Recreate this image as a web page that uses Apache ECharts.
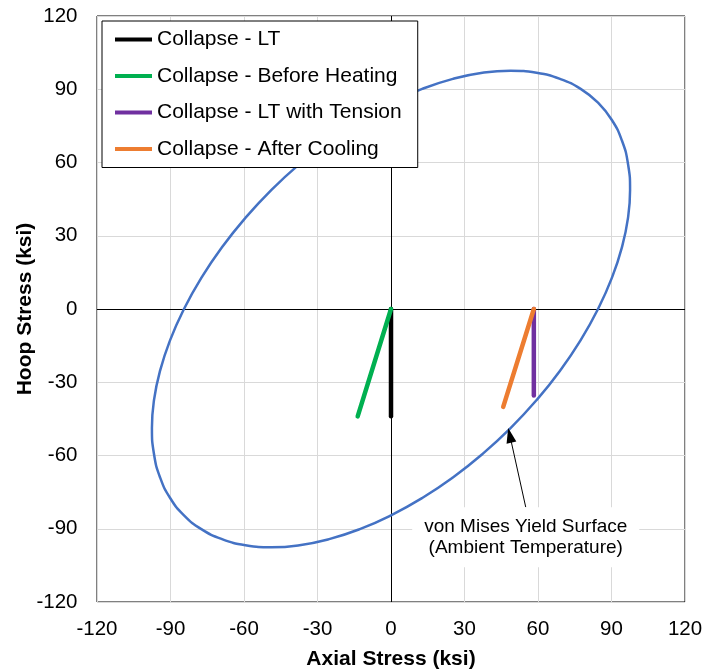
<!DOCTYPE html>
<html>
<head>
<meta charset="utf-8">
<script src="https://cdn.jsdelivr.net/npm/echarts@6/dist/echarts.min.js"></script>
<style>
html,body{margin:0;padding:0;background:#fff;}
#chart{width:704px;height:670px;}
</style>
</head>
<body>
<div id="chart"></div>
<script>
// ---- Data ----
var axisTicks = [-120, -90, -60, -30, 0, 30, 60, 90, 120];

// von Mises yield surface (ambient temperature)
var ellipseAxial = [84.5, 77.41, 68.99, 59.40, 48.78, 37.34, 25.25, 12.73, 0, -12.74, -25.26, -37.34,
  -48.79, -59.40, -69.0, -77.42, -84.5, -90.15, -94.25, -96.74, -97.58, -96.74, -94.25, -90.15,
  -84.5, -77.41, -68.99, -59.40, -48.78, -37.34, -25.25, -12.73, 0, 12.74, 25.26, 37.34,
  48.79, 59.40, 69.0, 77.42, 84.5, 90.15, 94.25, 96.74, 97.58, 96.74, 94.25, 90.15, 84.5];
var ellipseHoop = [84.5, 90.15, 94.25, 96.74, 97.58, 96.74, 94.25, 90.15, 84.5, 77.42, 69.0, 59.40,
  48.79, 37.34, 25.26, 12.74, 0, -12.73, -25.25, -37.34, -48.78, -59.40, -68.99, -77.41,
  -84.5, -90.15, -94.25, -96.74, -97.58, -96.74, -94.25, -90.15, -84.5, -77.42, -69.0, -59.40,
  -48.79, -37.34, -25.26, -12.74, 0, 12.73, 25.25, 37.34, 48.78, 59.40, 68.99, 77.41, 84.5];

var seriesNames = ['Collapse - LT', 'Collapse - Before Heating', 'Collapse - LT with Tension', 'Collapse - After Cooling'];
var ltAxial = [0, 0];
var ltHoop = [0, -43.9];
var beforeAxial = [0, -13.6];
var beforeHoop = [0, -44.0];
var tensionAxial = [58.3, 58.3];
var tensionHoop = [0, -35.4];
var coolingAxial = [58.3, 45.8];
var coolingHoop = [0, -40.1];

// annotation (data coordinates)
var annotText = 'von Mises Yield Surface\n(Ambient Temperature)';
var arrowFrom = [55.0, -81.2];
var arrowTo = [48.5, -51.7];
var annotAt = [55.0, -93.5];

function pairs(xs, ys) { return xs.map(function (x, i) { return [x, ys[i]]; }); }

var FONT = 'Liberation Sans, Arial, sans-serif';
var colors = ['#000000', '#00B050', '#7030A0', '#ED7D31'];
var seriesX = [ltAxial, beforeAxial, tensionAxial, coolingAxial];
var seriesY = [ltHoop, beforeHoop, tensionHoop, coolingHoop];

var series = [];
series.push({
  name: 'von Mises',
  type: 'line',
  data: pairs(ellipseAxial, ellipseHoop),
  showSymbol: false,
  symbol: 'none',
  smooth: 0.5,
  lineStyle: { color: '#4472C4', width: 2.5 },
  z: 3,
  markLine: {
    silent: true,
    symbol: ['none', 'none'],
    label: { show: false },
    lineStyle: { color: '#000', width: 1, type: 'solid' },
    data: [{ xAxis: 0 }, { yAxis: 0 }],
    z: 2
  }
});
seriesNames.forEach(function (n, i) {
  series.push({
    name: n,
    type: 'line',
    data: pairs(seriesX[i], seriesY[i]),
    showSymbol: false,
    symbol: 'none',
    color: colors[i],
    lineStyle: { color: colors[i], width: 4.5, cap: 'round' },
    z: 4
  });
});
series.push({
  name: 'annotation',
  type: 'scatter',
  data: [],
  z: 6,
  markLine: {
    silent: true,
    symbol: ['none', 'triangle'],
    symbolSize: [10, 15],
    label: { show: false },
    lineStyle: { color: '#000', width: 1, type: 'solid' },
    data: [[{ coord: arrowFrom }, { coord: arrowTo }]]
  },
  markPoint: {
    silent: true,
    symbol: 'rect',
    symbolSize: 1,
    itemStyle: { color: 'rgba(0,0,0,0)' },
    label: {
      show: true,
      position: 'inside',
      formatter: annotText,
      fontFamily: FONT,
      fontSize: 19,
      lineHeight: 21,
      color: '#000',
      align: 'center',
      backgroundColor: '#fff',
      padding: [9, 12, 9, 12]
    },
    data: [{ coord: annotAt }]
  }
});

var chart = echarts.init(document.getElementById('chart'), null, { renderer: 'canvas' });
chart.setOption({
  animation: false,
  backgroundColor: '#fff',
  grid: { left: 97, right: 19, top: 16, bottom: 68, show: true, borderColor: '#000', borderWidth: 1,
    backgroundColor: 'transparent', containLabel: false, outerBoundsMode: 'none' },
  legend: {
    data: seriesNames,
    orient: 'vertical',
    left: 102,
    top: 21,
    icon: 'rect',
    itemWidth: 37,
    itemHeight: 4,
    itemGap: 15.5,
    backgroundColor: '#fff',
    borderColor: '#000',
    borderWidth: 1,
    borderRadius: 0,
    padding: [8, 16, 8, 13],
    textStyle: { fontFamily: FONT, fontSize: 21, color: '#000' },
    z: 10
  },
  xAxis: {
    type: 'value',
    min: axisTicks[0],
    max: axisTicks[axisTicks.length - 1],
    interval: 30,
    name: 'Axial Stress (ksi)',
    nameLocation: 'middle',
    nameGap: 47,
    nameMoveOverlap: false,
    nameTextStyle: { fontFamily: FONT, fontSize: 21, fontWeight: 'bold', color: '#000' },
    axisLine: { show: false, onZero: false },
    axisTick: { show: false },
    axisLabel: { fontFamily: FONT, fontSize: 20.5, color: '#000', margin: 17 },
    splitLine: { show: true, lineStyle: { color: '#d9d9d9', width: 1 } }
  },
  yAxis: {
    type: 'value',
    min: axisTicks[0],
    max: axisTicks[axisTicks.length - 1],
    interval: 30,
    name: 'Hoop Stress (ksi)',
    nameLocation: 'middle',
    nameGap: 61.5,
    nameMoveOverlap: false,
    nameTextStyle: { fontFamily: FONT, fontSize: 21, fontWeight: 'bold', color: '#000' },
    axisLine: { show: false, onZero: false },
    axisTick: { show: false },
    axisLabel: { fontFamily: FONT, fontSize: 20.5, color: '#000', margin: 19.5 },
    splitLine: { show: true, lineStyle: { color: '#d9d9d9', width: 1 } }
  },
  series: series
});
</script>
</body>
</html>
